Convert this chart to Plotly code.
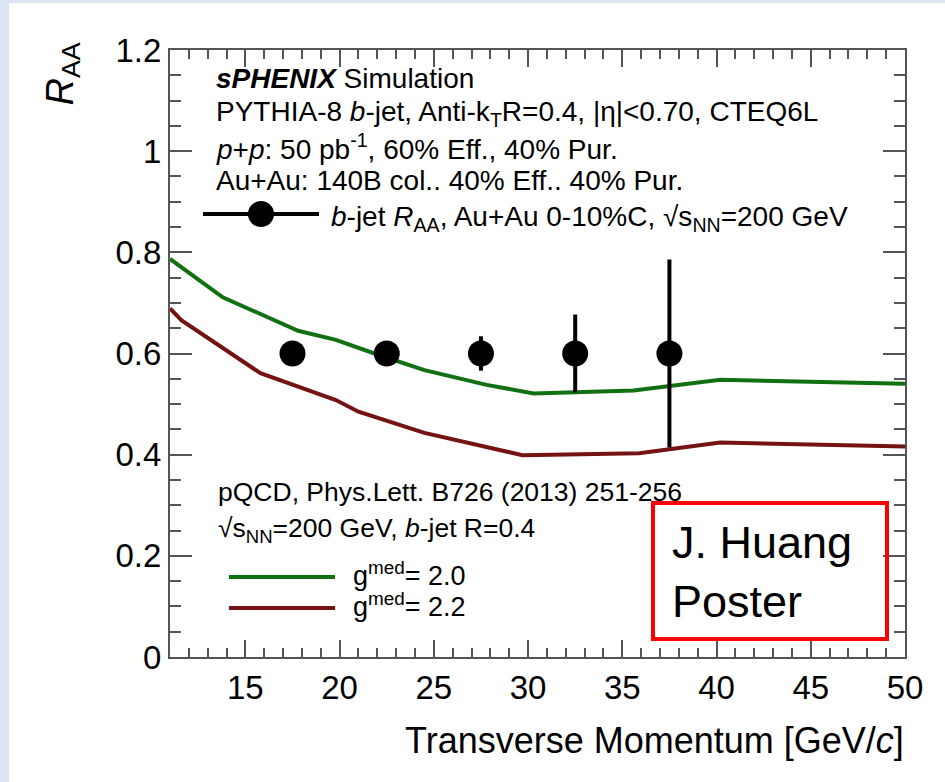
import plotly.graph_objects as go

# b-jet R_AA projection points
pt_bins = [17.5, 22.5, 27.5, 32.5, 37.5]
raa_vals = [0.60, 0.60, 0.60, 0.60, 0.60]
raa_errs = [0.012, 0.018, 0.034, 0.077, 0.186]

# pQCD curves (g_med = 2.0 and 2.2)
g20_pt = [11.0, 13.8, 17.8, 19.8, 22.0, 24.5, 27.8, 30.3, 35.6, 40.2, 50.0]
g20_raa = [0.787, 0.711, 0.645, 0.627, 0.598, 0.567, 0.538, 0.521, 0.527, 0.548, 0.540]
g22_pt = [11.0, 11.6, 15.8, 19.8, 21.0, 24.5, 29.7, 35.9, 40.2, 50.0]
g22_raa = [0.689, 0.666, 0.561, 0.508, 0.485, 0.443, 0.399, 0.403, 0.424, 0.416]

x_ticks = [15, 20, 25, 30, 35, 40, 45, 50]
y_ticks = [0, 0.2, 0.4, 0.6, 0.8, 1.0, 1.2]

W, H = 945, 782
L, R, T, B = 170, 905, 50, 657
FONT = "Liberation Sans, Arial, Helvetica, sans-serif"
AXC = "#555555"
GREEN = "#117011"
MAROON = "#751212"


def px(x):
    return (x - L) / (R - L)


def py(y):
    return (B - y) / (B - T)


fig = go.Figure()

fig.add_trace(go.Scatter(x=g20_pt, y=g20_raa, mode="lines",
                         line=dict(color=GREEN, width=4), showlegend=False))
fig.add_trace(go.Scatter(x=g22_pt, y=g22_raa, mode="lines",
                         line=dict(color=MAROON, width=4), showlegend=False))
fig.add_trace(go.Scatter(
    x=pt_bins, y=raa_vals, mode="markers",
    marker=dict(color="black", size=26, symbol="circle"),
    error_y=dict(type="data", array=raa_errs, color="black", thickness=4, width=0),
    showlegend=False))

axis_common = dict(
    showline=True, linecolor=AXC, linewidth=2, mirror="ticks",
    ticks="inside", tickcolor=AXC, tickwidth=2,
    showgrid=False, zeroline=False,
    tickfont=dict(family=FONT, size=33, color="black"),
)

fig.update_xaxes(range=[11, 50], tickvals=x_ticks, ticklen=17,
                 minor=dict(dtick=1, tick0=0, ticklen=9, tickwidth=2, tickcolor=AXC,
                            ticks="inside", showgrid=False),
                 **axis_common)
fig.update_yaxes(range=[0, 1.2], tickvals=y_ticks, ticklen=22, ticklabelstandoff=0,
                 minor=dict(dtick=0.05, tick0=0, ticklen=11, tickwidth=2, tickcolor=AXC,
                            ticks="inside", showgrid=False),
                 **axis_common)

shapes = [
    # white panel over the lavender page
    dict(type="rect", xref="paper", yref="paper", x0=px(9), x1=px(W + 5),
         y0=py(H + 5), y1=py(3), fillcolor="white", line=dict(width=0), layer="below"),
    # legend sample: data points
    dict(type="line", xref="paper", yref="paper", x0=px(203), x1=px(319),
         y0=py(214), y1=py(214), line=dict(color="black", width=4)),
    dict(type="circle", xref="paper", yref="paper", x0=px(248), x1=px(274),
         y0=py(227), y1=py(201), fillcolor="black", line=dict(color="black", width=0)),
    # legend samples: pQCD curves
    dict(type="line", xref="paper", yref="paper", x0=px(229), x1=px(335),
         y0=py(577), y1=py(577), line=dict(color=GREEN, width=4)),
    dict(type="line", xref="paper", yref="paper", x0=px(229), x1=px(335),
         y0=py(608), y1=py(608), line=dict(color=MAROON, width=4)),
    # label box
    dict(type="rect", xref="paper", yref="paper", x0=px(653), x1=px(887),
         y0=py(639), y1=py(503), line=dict(color="#ff0000", width=4)),
]


def label(text, x, y, size=28, xanchor="left", yanchor="middle", **kw):
    return dict(text=text, xref="paper", yref="paper", x=px(x), y=py(y),
                xanchor=xanchor, yanchor=yanchor, showarrow=False,
                font=dict(family=FONT, size=size, color="black"), **kw)


annotations = [
    label("<b><i>sPHENIX</i></b> Simulation", 214, 79),
    label("PYTHIA-8 <i>b</i>-jet, Anti-k<sub>T</sub>R=0.4, |η|&lt;0.70, CTEQ6L", 214, 114),
    label("<i>p</i>+<i>p</i>: 50 pb<sup>-1</sup>, 60% Eff., 40% Pur.", 214, 147),
    label("Au+Au: 140B col.. 40% Eff.. 40% Pur.", 214, 181),
    label("<i>b</i>-jet <i>R</i><sub>AA</sub>, Au+Au 0-10%C, √s<sub>NN</sub>=200 GeV", 329, 218),
    label("pQCD, Phys.Lett. B726 (2013) 251-256", 216, 492, size=26.5),
    label("√s<sub>NN</sub>=200 GeV, <i>b</i>-jet R=0.4", 216, 530, size=26.5),
    label("g<sup>med</sup>= 2.0", 351, 574, size=27),
    label("g<sup>med</sup>= 2.2", 351, 605, size=27),
    label("J. Huang<br>Poster", 670, 572, size=45, align="left"),
    label("Transverse Momentum [GeV/<i>c</i>]", 906, 740, size=36, xanchor="right"),
    label("<i>R</i><sub>AA</sub>", 62, 40, size=38, xanchor="center", yanchor="top",
          textangle=-90),
]

fig.update_layout(
    width=W, height=H,
    margin=dict(l=L, r=W - R, t=T, b=H - B),
    paper_bgcolor="#dce4f4",
    plot_bgcolor="white",
    shapes=shapes,
    annotations=annotations,
    showlegend=False,
)

fig.write_html("out.html")
